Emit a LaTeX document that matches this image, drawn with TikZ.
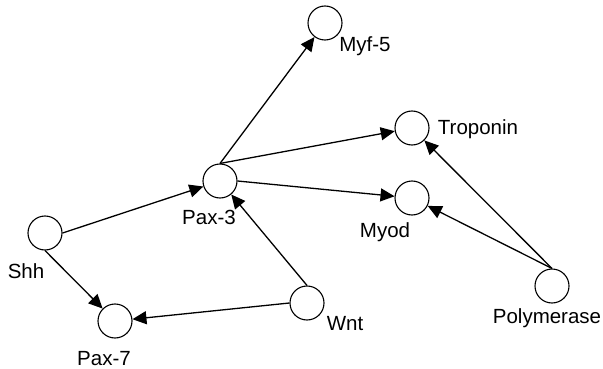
\documentclass[tikz,border=0pt]{standalone}
\usepackage{fontspec}
\setmainfont{Liberation Sans}
\usetikzlibrary{arrows.meta}
\begin{document}
\begin{tikzpicture}[x=1pt,y=-1pt,
  gene/.style={draw=black,circle,minimum size=34pt,inner sep=0pt,line width=1.1pt,fill=white},
  lbl/.style={anchor=base,inner sep=0pt,font=\fontsize{20.5}{24}\selectfont},
  arr/.style={draw=black,line width=1.3pt,-{Triangle[length=14pt,width=13pt]}}]
\useasboundingbox (0,0) rectangle (603,369);
\node[gene] (shh) at (45,233) {};
\node[gene] (pax7) at (115,321) {};
\node[gene] (pax3) at (220,181) {};
\node[gene] (myf5) at (325,23) {};
\node[gene] (trop) at (412,128) {};
\node[gene] (myod) at (412,198) {};
\node[gene] (wnt) at (307,303) {};
\node[gene] (poly) at (552,286) {};
\node[lbl] (lshh) at (26,278) {Shh};
\node[lbl] (lpax7) at (104,365) {Pax-7};
\node[lbl] (lpax3) at (209,224) {Pax-3};
\node[lbl] (lmyf5) at (365,52) {Myf-5};
\node[lbl] (ltrop) at (478,134) {Troponin};
\node[lbl] (lmyod) at (385,237) {Myod};
\node[lbl] (lwnt) at (345,330) {Wnt};
\node[lbl] (lpoly) at (547,323) {Polymerase};
\draw[arr] (shh.east) -- (pax3);
\draw[arr] (shh.south) -- (pax7);
\draw[arr] (pax3.north) -- (myf5);
\draw[arr] (pax3.north) -- (trop);
\draw[arr] (pax3.east) -- (myod);
\draw[arr] (wnt.north) -- (pax3);
\draw[arr] (wnt.west) -- (pax7);
\draw[arr] (poly.north) -- (trop);
\draw[arr] (poly.north) -- (myod);
\end{tikzpicture}
\end{document}
